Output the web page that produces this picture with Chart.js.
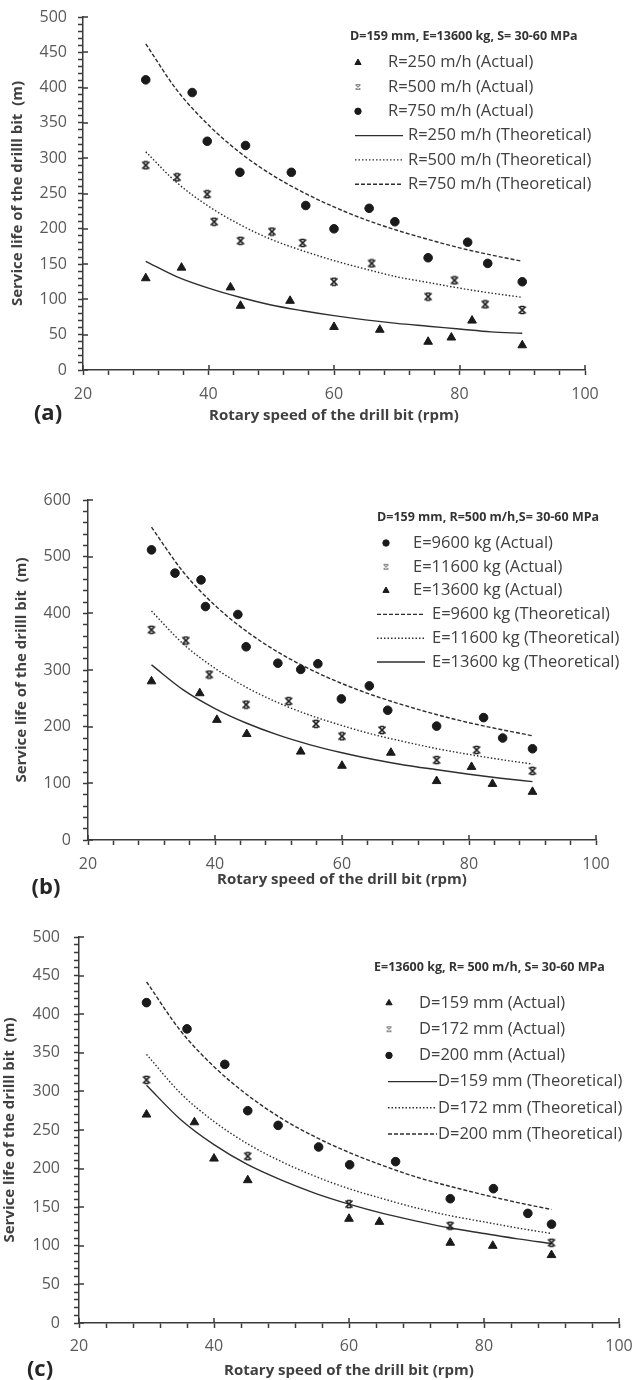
<!DOCTYPE html>
<html>
<head>
<meta charset="utf-8">
<script src="https://cdn.jsdelivr.net/npm/chart.js@4.4.1/dist/chart.umd.min.js"></script>
<style>
  html, body { margin: 0; padding: 0; background: #fff; }
  body { width: 635px; height: 1380px; position: relative; overflow: hidden; }
  canvas { position: absolute; left: 0; }
</style>
</head>
<body>
<canvas id="chartA" width="635" height="430" style="top:0px"></canvas>
<canvas id="chartB" width="635" height="460" style="top:450px"></canvas>
<canvas id="chartC" width="635" height="480" style="top:900px"></canvas>
<script>
const rpmFit = [30, 35, 40, 45, 50, 55, 60, 65, 70, 75, 80, 85, 90];
const xTicks = [20, 40, 60, 80, 100];

// (a) D=159 mm, E=13600 kg
const rpmA250 = [30, 35.7, 43.5, 45.1, 53, 60, 67.3, 75, 78.7, 82, 90];
const lifeA250 = [130, 145, 117, 91, 98, 61, 57, 40, 46, 70, 35];
const rpmA500 = [30, 35, 39.8, 40.9, 45.1, 50.1, 55, 60, 66, 75, 79.2, 84.1, 90];
const lifeA500 = [290, 273, 249, 210, 183, 196, 180, 125, 151, 104, 127, 93, 85];
const rpmA750 = [30, 37.4, 39.8, 45.9, 45, 53.2, 55.5, 60, 65.6, 69.7, 75, 81.3, 84.5, 90];
const lifeA750 = [411, 393, 324, 318, 280, 280, 233, 200, 229, 210, 159, 181, 151, 125];
const fitA250 = [154, 132, 116, 103, 92, 84, 77, 71, 66, 62, 58, 54, 52];
const fitA500 = [309, 265, 232, 206, 185, 169, 155, 143, 132, 124, 116, 109, 103];
const fitA750 = [462, 396, 347, 308, 277, 252, 231, 213, 198, 185, 173, 163, 154];

// (b) D=159 mm, R=500 m/h
const rpmB9600 = [30, 33.7, 37.8, 38.5, 43.6, 44.9, 49.9, 53.5, 56.2, 59.9, 64.3, 67.2, 74.9, 82.3, 85.3, 90];
const lifeB9600 = [512, 471, 459, 412, 398, 341, 312, 301, 311, 249, 272, 229, 201, 216, 180, 161];
const rpmB11600 = [30, 35.4, 39.1, 44.9, 51.6, 55.9, 60, 66.3, 74.9, 81.2, 90];
const lifeB11600 = [371, 352, 292, 239, 245, 205, 183, 194, 141, 159, 122];
const rpmB13600 = [30, 37.6, 40.3, 45, 53.5, 60, 67.7, 74.9, 80.4, 83.7, 90];
const lifeB13600 = [280, 259, 212, 187, 156, 131, 154, 104, 129, 99, 85];
const fitB9600 = [552, 473, 414, 368, 331, 301, 276, 255, 237, 221, 207, 195, 184];
const fitB11600 = [404, 346, 303, 269, 242, 220, 202, 186, 173, 161, 151, 142, 134];
const fitB13600 = [309, 265, 232, 206, 185, 168, 154, 142, 132, 124, 116, 109, 103];

// (c) E=13600 kg, R=500 m/h
const rpmC159 = [30, 37.1, 40, 45, 60, 64.5, 75, 81.3, 90];
const lifeC159 = [270, 260, 213, 185, 135, 131, 104, 100, 88];
const rpmC172 = [30, 45, 60, 75, 90];
const lifeC172 = [315, 216, 154, 126, 104];
const rpmC200 = [30, 36, 41.6, 45, 49.5, 55.5, 60.1, 66.9, 75, 81.4, 86.5, 90];
const lifeC200 = [415, 381, 335, 275, 256, 228, 205, 209, 161, 174, 142, 128];
const fitC159 = [308, 264, 231, 205, 185, 168, 154, 142, 132, 123, 116, 109, 103];
const fitC172 = [348, 298, 261, 232, 209, 190, 174, 161, 149, 139, 131, 123, 116];
const fitC200 = [442, 379, 332, 295, 265, 241, 221, 204, 189, 177, 166, 156, 147];

const FONT = "'Open Sans', sans-serif";
const INK = '#1a1a1a';
const LINE = '#2e2e2e';
const AXIS = '#3a3a3a';
const TICK = '#595959';
const TITLE = '#404040';
const DASHED = [4, 2];
const DOTTED = [1.5, 2];

Chart.defaults.font.family = FONT;

// excel-like star marker: an x with short bars top and bottom
function makeStar(size, color, lw) {
  const c = document.createElement('canvas');
  c.width = size; c.height = size;
  const g = c.getContext('2d');
  const m = 1.5, e = size - 1.5;
  g.strokeStyle = color; g.lineWidth = lw;
  g.beginPath();
  g.moveTo(m, m); g.lineTo(e, e);
  g.moveTo(e, m); g.lineTo(m, e);
  g.moveTo(size * 0.3, m); g.lineTo(size * 0.7, m);
  g.moveTo(size * 0.3, e); g.lineTo(size * 0.7, e);
  g.stroke();
  return c;
}
const starMark = makeStar(10, '#1a1a1a', 1.7);
const starKey = makeStar(8, '#8a8a8a', 1.2);

const pts = (xs, ys) => xs.map((x, i) => ({ x, y: ys[i] }));

function actual(label, xs, ys, style) {
  return {
    label, data: pts(xs, ys), showLine: false,
    pointStyle: style,
    pointRadius: style === 'triangle' ? 5 : 4.3,
    backgroundColor: INK, borderColor: INK, borderWidth: 1
  };
}
function theory(label, ys, dash) {
  return {
    label, data: pts(rpmFit, ys), showLine: true, pointRadius: 0,
    borderColor: LINE, borderWidth: 1.4, borderDash: dash,
    cubicInterpolationMode: 'monotone', fill: false
  };
}

// inner half of the major ticks, legend box, panel tag
function decor(o) {
  return {
    id: 'decor',
    afterDraw(chart) {
      const ctx = chart.ctx;
      const sx = chart.scales.x, sy = chart.scales.y, a = chart.chartArea;
      ctx.save();
      ctx.strokeStyle = AXIS;
      ctx.lineWidth = 1.5;
      ctx.beginPath();
      xTicks.forEach(v => {
        const px = Math.round(sx.getPixelForValue(v));
        ctx.moveTo(px, a.bottom);
        ctx.lineTo(px, a.bottom - 5);
      });
      for (let v = 0; v <= o.yMax; v += o.yStep) {
        const py = Math.round(sy.getPixelForValue(v));
        ctx.moveTo(a.left, py);
        ctx.lineTo(a.left + 5, py);
      }
      ctx.stroke();

      ctx.textBaseline = 'middle';
      ctx.fillStyle = '#333';
      ctx.font = 'bold 12.5px ' + FONT;
      ctx.fillText(o.title, o.x, o.titleY);
      ctx.font = '16.5px ' + FONT;
      chart.data.datasets.forEach((ds, i) => {
        const yy = o.rowY + i * o.rowGap;
        if (ds.showLine) {
          ctx.strokeStyle = LINE;
          ctx.lineWidth = 1.4;
          ctx.setLineDash(ds.borderDash || []);
          ctx.beginPath();
          ctx.moveTo(o.x + o.lineFrom, yy);
          ctx.lineTo(o.x + o.lineTo, yy);
          ctx.stroke();
          ctx.setLineDash([]);
          ctx.fillStyle = TITLE;
          ctx.fillText(ds.label, o.x + o.lineText, yy);
        } else {
          const mx = o.x + o.marker;
          if (ds.pointStyle === starMark) {
            ctx.drawImage(starKey, mx - 4, yy - 4);
          } else {
            ctx.fillStyle = INK;
            ctx.strokeStyle = INK;
            ctx.lineWidth = 1;
            Chart.helpers.drawPoint(ctx, {
              pointStyle: ds.pointStyle, rotation: 0,
              radius: ds.pointStyle === 'triangle' ? 3.6 : 3.2, borderWidth: 1
            }, mx, yy);
          }
          ctx.fillStyle = TITLE;
          ctx.fillText(ds.label, o.x + o.markText, yy);
        }
      });
      ctx.fillStyle = '#262626';
      ctx.font = 'bold 22px ' + FONT;
      ctx.textAlign = 'center';
      ctx.fillText(o.tag, o.tagX, o.tagY);
      ctx.restore();
    }
  };
}

// keep the plot box where the layout padding puts it
function noOverhang(s) {
  s.paddingTop = 0; s.paddingBottom = 0; s.paddingLeft = 0; s.paddingRight = 0;
}

function makePanel(id, p) {
  const tickMarks = { display: true, drawOnChartArea: false, drawTicks: true, tickLength: 5, tickColor: AXIS, tickWidth: 1.5 };
  return new Chart(document.getElementById(id), {
    type: 'scatter',
    data: { datasets: p.datasets },
    plugins: [decor(Object.assign({ yMax: p.yMax, yStep: p.yStep }, p.key))],
    options: {
      responsive: false,
      animation: false,
      layout: { padding: { left: 0, top: p.padTop, right: p.padRight, bottom: 0 } },
      plugins: {
        legend: { display: false },
        tooltip: { enabled: false }
      },
      scales: {
        x: {
          type: 'linear', min: 20, max: 100,
          afterFit: s => { s.height = p.xHeight; noOverhang(s); },
          grid: tickMarks,
          border: { display: true, color: AXIS, width: 1.5 },
          ticks: {
            stepSize: 4, padding: p.xPad, color: TICK, font: { size: 16 }, autoSkip: false, maxRotation: 0,
            callback: v => (xTicks.includes(v) ? String(v) : '')
          },
          title: {
            display: true, text: 'Rotary speed of the drill bit (rpm)', color: TITLE,
            font: { size: 15, weight: 'bold' }, padding: { top: 0, bottom: p.xTitlePad }
          }
        },
        y: {
          type: 'linear', min: 0, max: p.yMax,
          afterFit: s => { s.width = p.yWidth; noOverhang(s); },
          grid: tickMarks,
          border: { display: true, color: AXIS, width: 1.5 },
          ticks: {
            stepSize: p.yMinor, padding: p.yPad, color: TICK, font: { size: 16 }, autoSkip: false,
            callback: v => (v % p.yStep === 0 ? String(v) : '')
          },
          title: {
            display: true, text: 'Service life of the drilll bit  (m)', color: TITLE,
            font: { size: 15, weight: 'bold' }, padding: { top: p.yTitlePad, bottom: 0 }
          }
        }
      }
    }
  });
}

makePanel('chartA', {
  datasets: [
    actual('R=250 m/h (Actual)', rpmA250, lifeA250, 'triangle'),
    actual('R=500 m/h (Actual)', rpmA500, lifeA500, starMark),
    actual('R=750 m/h (Actual)', rpmA750, lifeA750, 'circle'),
    theory('R=250 m/h (Theoretical)', fitA250, []),
    theory('R=500 m/h (Theoretical)', fitA500, DOTTED),
    theory('R=750 m/h (Theoretical)', fitA750, DASHED)
  ],
  padTop: 17, padRight: 50, xHeight: 60, yWidth: 83,
  yMax: 500, yStep: 50, yMinor: 10,
  xPad: 10, xTitlePad: 5, yPad: 11, yTitlePad: 9,
  key: {
    title: 'D=159 mm, E=13600 kg, S= 30-60 MPa', x: 350, titleY: 36,
    rowY: 62.7, rowGap: 24.3, marker: 8, markText: 38, lineFrom: 5, lineTo: 53, lineText: 58,
    tag: '(a)', tagX: 48, tagY: 414
  }
});

makePanel('chartB', {
  datasets: [
    actual('E=9600 kg (Actual)', rpmB9600, lifeB9600, 'circle'),
    actual('E=11600 kg (Actual)', rpmB11600, lifeB11600, starMark),
    actual('E=13600 kg (Actual)', rpmB13600, lifeB13600, 'triangle'),
    theory('E=9600 kg (Theoretical)', fitB9600, DASHED),
    theory('E=11600 kg (Theoretical)', fitB11600, DOTTED),
    theory('E=13600 kg (Theoretical)', fitB13600, [])
  ],
  padTop: 50, padRight: 39, xHeight: 70, yWidth: 88,
  yMax: 600, yStep: 100, yMinor: 20,
  xPad: 10, xTitlePad: 21, yPad: 12, yTitlePad: 13,
  key: {
    title: 'D=159 mm, R=500 m/h,S= 30-60 MPa', x: 377, titleY: 67,
    rowY: 93, rowGap: 23.8, marker: 9, markText: 36, lineFrom: 0, lineTo: 48, lineText: 55,
    tag: '(b)', tagX: 46, tagY: 438
  }
});

makePanel('chartC', {
  datasets: [
    actual('D=159 mm (Actual)', rpmC159, lifeC159, 'triangle'),
    actual('D=172 mm (Actual)', rpmC172, lifeC172, starMark),
    actual('D=200 mm (Actual)', rpmC200, lifeC200, 'circle'),
    theory('D=159 mm (Theoretical)', fitC159, []),
    theory('D=172 mm (Theoretical)', fitC172, DOTTED),
    theory('D=200 mm (Theoretical)', fitC200, DASHED)
  ],
  padTop: 37, padRight: 16, xHeight: 57, yWidth: 79,
  yMax: 500, yStep: 50, yMinor: 10,
  xPad: 9, xTitlePad: 0, yPad: 14, yTitlePad: 1,
  key: {
    title: 'E=13600 kg, R= 500 m/h, S= 30-60 MPa', x: 374, titleY: 67,
    rowY: 103, rowGap: 26.2, marker: 15, markText: 45, lineFrom: 14, lineTo: 63, lineText: 64,
    tag: '(c)', tagX: 40, tagY: 470
  }
});
</script>
</body>
</html>
